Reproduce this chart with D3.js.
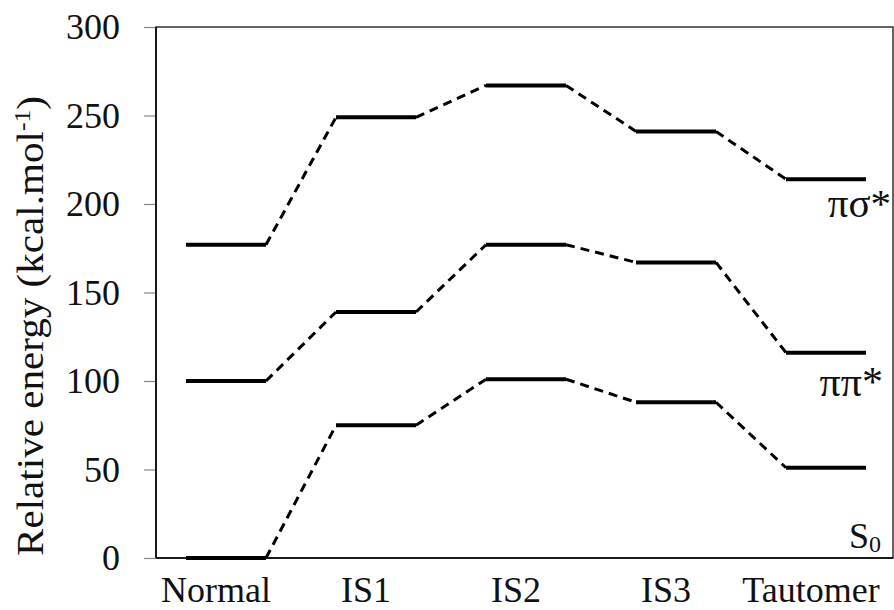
<!DOCTYPE html>
<html>
<head>
<meta charset="utf-8">
<script src="https://cdn.jsdelivr.net/npm/d3@7"></script>
<style>
  body { margin: 0; background: #fff; }
</style>
</head>
<body>
<div id="chart"></div>
<script>
var svgWidth = 894;
var svgHeight = 610;
var serif = "'Liberation Serif'";

var margin = { top: 27, right: 1, bottom: 52, left: 156 };
var width = svgWidth - margin.left - margin.right;
var height = svgHeight - margin.top - margin.bottom;

// data
var categories = ["Normal", "IS1", "IS2", "IS3", "Tautomer"];
var s0Values = [0, 75, 101, 88, 51];
var ppValues = [100, 139, 177, 167, 116];
var psValues = [177, 249, 267, 241, 214];
var yTicks = [0, 50, 100, 150, 200, 250, 300];

var series = [
  { name: "S0", values: s0Values },
  { name: "pp", values: ppValues },
  { name: "ps", values: psValues }
];

var svg = d3.select("#chart")
  .append("svg")
  .attr("width", svgWidth)
  .attr("height", svgHeight);

var chartGroup = svg.append("g")
  .attr("transform", `translate(${margin.left}, ${margin.top})`);

var xScale = d3.scalePoint()
  .domain(categories)
  .range([70, 670]);

var yScale = d3.scaleLinear()
  .domain([0, 300])
  .range([height, 0]);

var half = 40;

// plot frame
chartGroup.append("rect")
  .attr("x", 0)
  .attr("y", 0)
  .attr("width", width)
  .attr("height", height)
  .attr("fill", "none")
  .attr("stroke", "#333")
  .attr("stroke-width", 1.5);

// y axis
var leftAxis = d3.axisLeft(yScale)
  .tickValues(yTicks)
  .tickSize(12)
  .tickPadding(24);

var yAxis = chartGroup.append("g").call(leftAxis);
yAxis.select(".domain").remove();
yAxis.selectAll(".tick line")
  .attr("x1", -12).attr("x2", 0)
  .attr("stroke", "#888").attr("stroke-width", 1.2);
yAxis.selectAll(".tick text")
  .style("font-family", serif)
  .style("font-size", "36px")
  .attr("fill", "#111");

chartGroup.append("line")
  .attr("x1", 0).attr("x2", 0)
  .attr("y1", 0).attr("y2", height)
  .attr("stroke", "#000").attr("stroke-width", 1.5);

// x axis line + labels
chartGroup.append("line")
  .attr("x1", 0).attr("x2", width)
  .attr("y1", height).attr("y2", height)
  .attr("stroke", "#000").attr("stroke-width", 1.5);

chartGroup.selectAll("text.xlabel")
  .data(categories)
  .enter()
  .append("text")
  .attr("class", "xlabel")
  .attr("x", (d, i) => xScale(d) - (i === categories.length - 1 ? 15 : 10))
  .attr("y", height + 44)
  .attr("text-anchor", "middle")
  .style("font-family", serif)
  .style("font-size", "36px")
  .attr("fill", "#111")
  .text(d => d);

// y axis title
var title = svg.append("text")
  .attr("transform", "rotate(-90)")
  .attr("x", -556)
  .attr("y", 43)
  .attr("text-anchor", "start")
  .attr("textLength", 460)
  .attr("lengthAdjust", "spacingAndGlyphs")
  .style("font-family", serif)
  .style("font-size", "37px")
  .attr("fill", "#111");
title.append("tspan").text("Relative energy (kcal.mol");
title.append("tspan").attr("dy", -13).style("font-size", "23px").text("-1");
title.append("tspan").attr("dy", 13).text(")");

// levels and connectors
series.forEach(function(s) {
  var pts = categories.map((c, i) => ({ x: xScale(c), y: yScale(s.values[i]) }));

  var links = pts.slice(0, -1).map((p, i) => ({ a: p, b: pts[i + 1] }));

  chartGroup.selectAll(null)
    .data(links)
    .enter()
    .append("line")
    .attr("x1", d => d.a.x + half)
    .attr("y1", d => d.a.y)
    .attr("x2", d => d.b.x - half)
    .attr("y2", d => d.b.y)
    .attr("stroke", "#000")
    .attr("stroke-width", 3)
    .attr("stroke-dasharray", "9,6");

  chartGroup.selectAll(null)
    .data(pts)
    .enter()
    .append("line")
    .attr("x1", d => d.x - half)
    .attr("x2", d => d.x + half)
    .attr("y1", d => d.y)
    .attr("y2", d => d.y)
    .attr("stroke", "#000")
    .attr("stroke-width", 4);
});

// state labels
var lastIdx = categories.length - 1;

chartGroup.append("text")
  .attr("x", width - 2)
  .attr("y", yScale(psValues[lastIdx]) + 38)
  .attr("text-anchor", "end")
  .style("font-family", serif)
  .style("font-size", "41px")
  .attr("fill", "#111")
  .text("πσ*");

chartGroup.append("text")
  .attr("x", width - 10)
  .attr("y", yScale(ppValues[lastIdx]) + 43)
  .attr("text-anchor", "end")
  .style("font-family", serif)
  .style("font-size", "42px")
  .attr("fill", "#111")
  .text("ππ*");

var s0 = chartGroup.append("text")
  .attr("x", width - 12)
  .attr("y", height - 10)
  .attr("text-anchor", "end")
  .style("font-family", serif)
  .style("font-size", "36px")
  .attr("fill", "#111");
s0.append("tspan").text("S");
s0.append("tspan").attr("dy", 4).style("font-size", "24px").text("0");
</script>
</body>
</html>
